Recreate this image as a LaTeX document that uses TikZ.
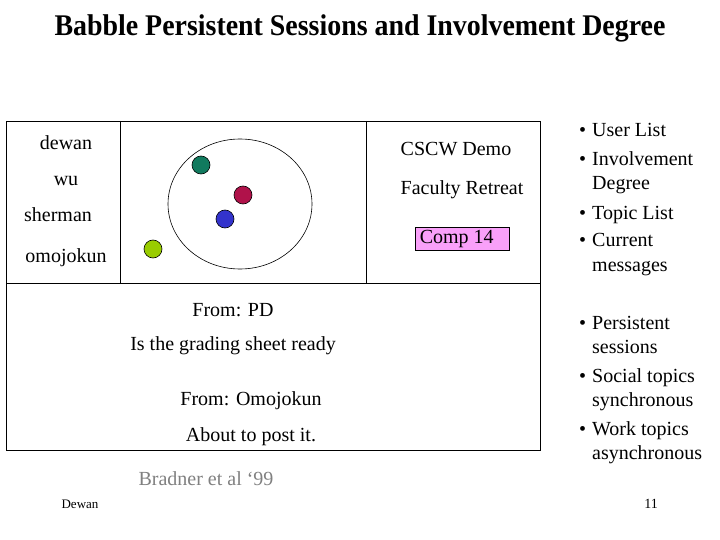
\documentclass[tikz,border=0pt]{standalone}
\usepackage{fontspec}
\setmainfont{Liberation Serif}
\usetikzlibrary{positioning}
\usetikzlibrary{shapes.geometric}

\definecolor{dotgreen}{RGB}{17,122,94}
\definecolor{dotred}{RGB}{176,18,74}
\definecolor{dotblue}{RGB}{51,51,204}
\definecolor{dotlime}{RGB}{153,204,0}
\definecolor{topicpink}{RGB}{249,160,249}

\begin{document}
\begin{tikzpicture}[x=1pt,y=-1pt,
	txt/.style={font=\fontsize{20}{24}\selectfont,inner sep=0pt},
	item/.style={txt,anchor=base west},
	dot/.style={circle,draw=black,line width=0.6pt,minimum size=18pt,inner sep=0pt},
	frame line/.style={line width=0.9pt}]

	\useasboundingbox (0,0) rectangle (720,540);

	% title
	\node[inner sep=0pt] (title) at (360,28)
		{\scalebox{0.93}[1]{\fontsize{30}{34}\bfseries\selectfont Babble Persistent Sessions and Involvement Degree}};

	% session window
	\coordinate (tl) at (6,121);
	\coordinate (br) at (540,450);
	\draw[frame line] (tl) rectangle (br);
	\draw[frame line] (6,283) -- (540,283);
	\draw[frame line] (120,121) -- (120,283);
	\draw[frame line] (366,121) -- (366,283);

	% users
	\node[txt] (dewan) at (66,143) {dewan};
	\node[txt] (wu) at (66,181) {wu};
	\node[txt] (sherman) at (58,215) {sherman};
	\node[txt] (omojokun) at (66,258) {omojokun};

	% involvement circle
	\node[draw,ellipse,minimum width=144pt,minimum height=130pt,inner sep=0pt,line width=0.6pt] (ring) at (240,204) {};
	\node[dot,fill=dotgreen] (dgreen) at (201,165) {};
	\node[dot,fill=dotred] (dred) at (243,195) {};
	\node[dot,fill=dotblue] (dblue) at (225,219) {};
	\node[dot,fill=dotlime] (dlime) at (153,249) {};

	% topics
	\node[txt] (cscw) at (456,149) {CSCW Demo};
	\node[txt] (retreat) at (462,190) {Faculty Retreat};
	\node[draw,fill=topicpink,line width=0.8pt,minimum width=94pt,minimum height=23pt,inner sep=0pt] (comp) at (462,238.5) {};
	\node[txt,anchor=west] (comptxt) at ([xshift=5pt,yshift=-1pt]comp.west) {Comp 14};

	% messages
	\node[txt] (from1) at (233,310) {From: PD};
	\node[txt] (msg1) at (233,346) {Is the grading sheet ready};
	\node[txt] (from2) at (251,401) {From: Omojokun};
	\node[txt] (msg2) at (251,437) {About to post it.};

	% footer
	\node[txt,text=black!50] (cite) at (206,479) {Bradner et al ‘99};
	\node[font=\fontsize{13}{15}\selectfont,inner sep=0pt] (author) at (80,504) {Dewan};
	\node[font=\fontsize{14}{16}\selectfont,inner sep=0pt] (page) at (651,504) {11};

	% feature list
	\foreach \y/\t in {137/User List,166/Involvement,219/Topic List,247/Current,
		329/Persistent,382/Social topics,435/Work topics}
		{\node[item] at (579,\y) {\textbullet};
		 \node[item] at (592,\y) {\t};}
	\foreach \y/\t in {190/Degree,271/messages,353/sessions,406/synchronous,459/asynchronous}
		\node[item] at (592,\y) {\t};
\end{tikzpicture}
\end{document}
